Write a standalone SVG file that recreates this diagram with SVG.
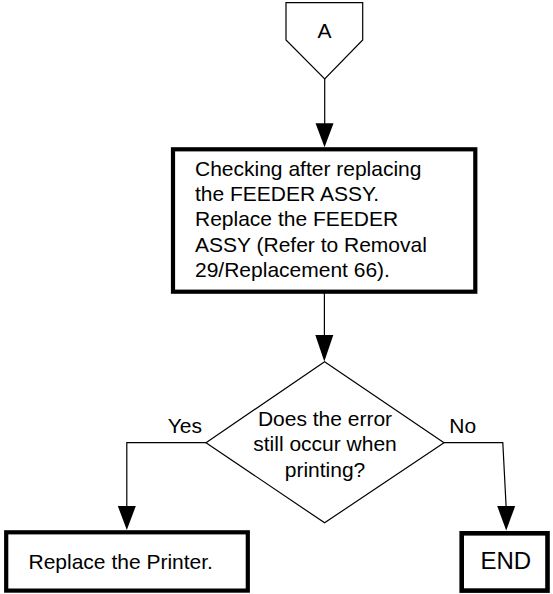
<svg xmlns="http://www.w3.org/2000/svg" width="553" height="594" viewBox="0 0 553 594">
<style>
text{font-family:"Liberation Sans",Arial,sans-serif;font-size:21px;fill:#000}
.thin{fill:none;stroke:#000;stroke-width:1.2}
.box{fill:#fff;stroke:#000;stroke-width:4.2}
.shape{fill:#fff;stroke:#000;stroke-width:1.2}
.head{fill:#000;stroke:none}
</style>
<rect width="553" height="594" fill="#fff"/>
<g id="connectors">
<line class="thin" x1="324.7" y1="79" x2="324.7" y2="125"/>
<polygon class="head" points="315.5,123.3 333.5,123.3 324.5,147.3"/>
<line class="thin" x1="324.4" y1="293" x2="324.4" y2="337"/>
<polygon class="head" points="315.3,335 333.3,335 324.3,361.5"/>
<polyline class="thin" points="206,442.7 126.8,442.7 126.8,508"/>
<polygon class="head" points="117.8,506 135.8,506 126.8,530"/>
<polyline class="thin" points="444,442.7 502.8,442.7 506.2,508"/>
<polygon class="head" points="497.2,506 515.2,506 506.2,530.5"/>
<text x="202" y="433" text-anchor="end">Yes</text>
<text x="449.3" y="433.3">No</text>
</g>
<g id="nodeA">
<polygon class="shape" points="286,2.7 362.7,2.7 362.7,40 324.7,79 286,40"/>
<text x="324.5" y="37.5" text-anchor="middle">A</text>
</g>
<g id="nodeCheck">
<rect class="box" x="173" y="149.3" width="302.3" height="142.4"/>
<text x="195" y="176">Checking after replacing</text>
<text x="195" y="201.2">the FEEDER ASSY.</text>
<text x="195" y="226.4">Replace the FEEDER</text>
<text x="195" y="251.6">ASSY (Refer to Removal</text>
<text x="195" y="276.8">29/Replacement 66).</text>
</g>
<g id="nodeDecision">
<polygon class="shape" points="324.6,361.7 444,442.7 324.6,522.8 206,442.7"/>
<text x="325" y="426" text-anchor="middle">Does the error</text>
<text x="325" y="451" text-anchor="middle">still occur when</text>
<text x="325" y="476.5" text-anchor="middle">printing?</text>
</g>
<g id="nodeReplace">
<rect class="box" x="6.2" y="532.3" width="241.6" height="58.3"/>
<text x="28.5" y="569.3">Replace the Printer.</text>
</g>
<g id="nodeEnd">
<rect class="box" x="461.7" y="533.3" width="85.8" height="57.3" style="stroke-width:4.6"/>
<text x="505.8" y="569.3" text-anchor="middle" style="font-size:24px">END</text>
</g>
</svg>
